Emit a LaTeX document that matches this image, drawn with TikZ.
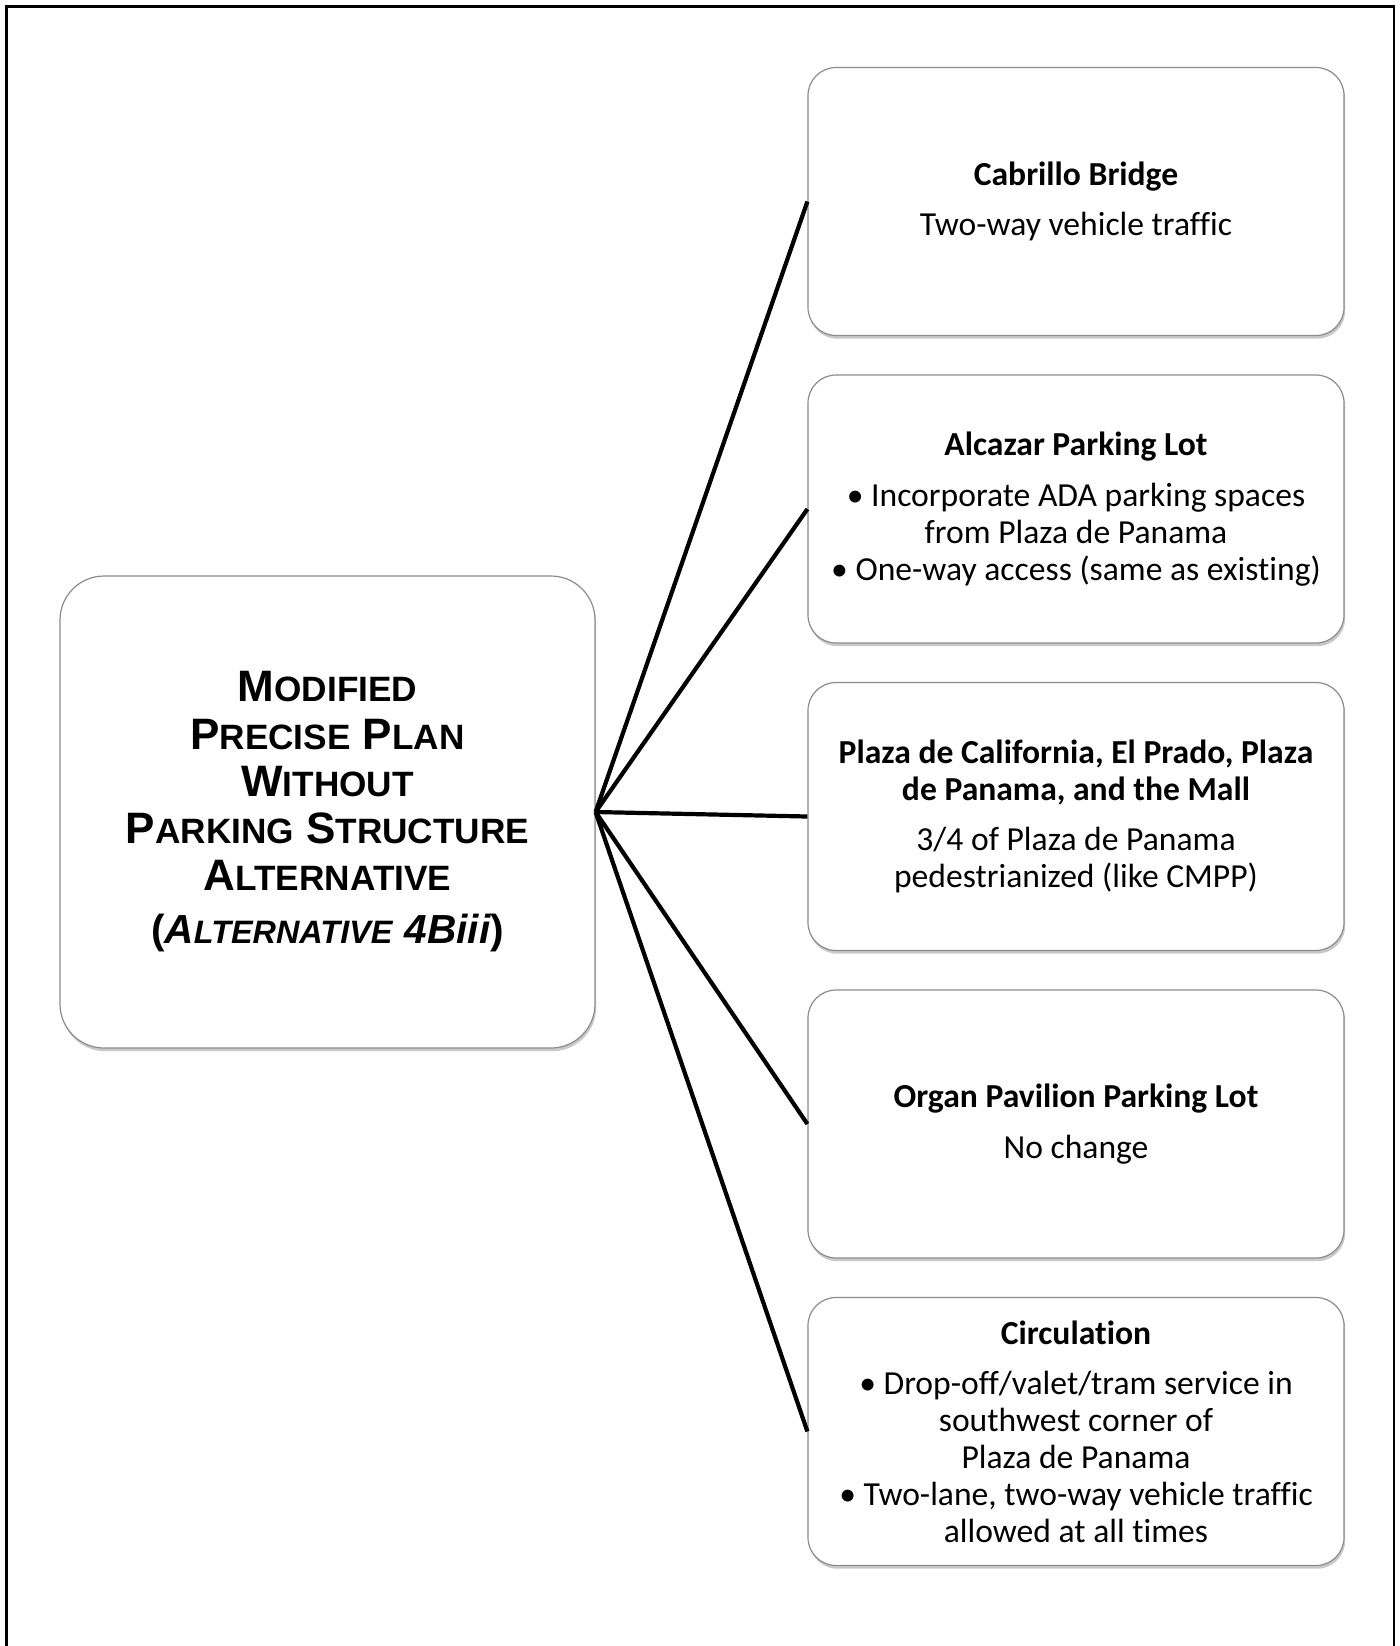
\documentclass[tikz,border=0pt]{standalone}
\usepackage{fontspec}
\setmainfont[Ligatures={NoCommon}]{Carlito}
\newfontfamily\arialfont{Liberation Sans}
\usetikzlibrary{shadows}
\newcommand{\bigsc}[1]{{\fontsize{22}{23.6}\selectfont #1}}
\newcommand{\smsc}[1]{{\fontsize{17.6}{23.6}\selectfont #1}}
\newcommand{\bigscb}[1]{{\fontsize{20.3}{23.6}\selectfont #1}}
\newcommand{\smscb}[1]{{\fontsize{16.2}{23.6}\selectfont #1}}
\definecolor{boxline}{HTML}{8C8C8C}
\tikzset{
  card/.style={draw=boxline, line width=0.6pt, fill=white, rounded corners=14pt,
    minimum width=268pt, minimum height=134pt, align=center, inner sep=0pt,
    font=\fontsize{16.8}{18.4}\selectfont,
    drop shadow={shadow xshift=0.6pt, shadow yshift=-1.6pt, opacity=0.35, fill=black!60}},
  maincard/.style={card, rounded corners=22pt, minimum width=267.5pt, minimum height=236pt,
    font=\arialfont\bfseries\fontsize{22}{23.6}\selectfont},
  conn/.style={line width=2.1pt, black},
  frameline/.style={line width=1.3pt, black}
}
\begin{document}
\begin{tikzpicture}[x=0.5pt, y=-0.5pt]
\useasboundingbox (0,0) rectangle (1400,1646);
\fill[white] (0,0) rectangle (1400,1646);
\draw[frameline] (6.5,1660) -- (6.5,6.5) -- (1394,6.5) -- (1394,1660);

\node[maincard] (main) at (327.5,812) {%
\bigsc{M}\smsc{ODIFIED}\\
\bigsc{P}\smsc{RECISE} \bigsc{P}\smsc{LAN}\\
\bigsc{W}\smsc{ITHOUT}\\
\bigsc{P}\smsc{ARKING} \bigsc{S}\smsc{TRUCTURE}\\
\bigsc{A}\smsc{LTERNATIVE}\\[3pt]
\bigscb{(}{\itshape\bigscb{A}\smscb{LTERNATIVE} \bigscb{4Biii}}\bigscb{)}};

\node[card] (b1) at (1076,201.5) {\textbf{Cabrillo Bridge}\\[7pt]
Two-way vehicle traffic};

\node[card] (b2) at (1076,509) {\textbf{Alcazar Parking Lot}\\[7pt]
\textbullet\ Incorporate ADA parking spaces\\
from Plaza de Panama\\
\textbullet\ One-way access (same as existing)};

\node[card] (b3) at (1076,816.5) {\textbf{Plaza de California, El Prado, Plaza}\\
\textbf{de Panama, and the Mall}\\[7pt]
3/4 of Plaza de Panama\\
pedestrianized (like CMPP)};

\node[card] (b4) at (1076,1124) {\textbf{Organ Pavilion Parking Lot}\\[7pt]
No change};

\node[card] (b5) at (1076,1431.5) {\textbf{Circulation}\\[7pt]
\textbullet\ Drop-off/valet/tram service in\\
southwest corner of\\
Plaza de Panama\\
\textbullet\ Two-lane, two-way vehicle traffic\\
allowed at all times};

\foreach \b in {b1,b2,b3,b4,b5}
  \draw[conn] (main.east) -- (\b.west);
\end{tikzpicture}
\end{document}
